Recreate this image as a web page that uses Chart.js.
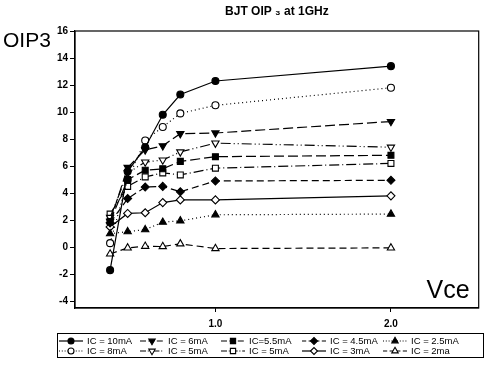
<!DOCTYPE html>
<html>
<head>
<meta charset="utf-8">
<title>BJT OIP3 at 1GHz</title>
<script src="https://cdn.jsdelivr.net/npm/chart.js@4/dist/chart.umd.min.js"></script>
<style>
  html, body { margin: 0; padding: 0; background: #fff; }
  canvas { display: block; }
</style>
</head>
<body>
<canvas id="oipChart" width="484" height="375"></canvas>
<script>
// Vce sweep (V)
const vce = [0.4, 0.5, 0.6, 0.7, 0.8, 1.0, 2.0];

// OIP3 per bias current
const ic10 = [-1.7, 5.6, 7.4, 9.8, 11.3, 12.3, 13.4];
const ic6 = [1.9, 5.9, 7.2, 7.5, 8.4, 8.45, 9.3];
const ic55 = [1.9, 5.0, 5.7, 5.8, 6.35, 6.7, 6.8];
const ic45 = [1.8, 3.6, 4.45, 4.5, 4.1, 4.9, 4.95];
const ic25 = [1.0, 1.15, 1.3, 1.85, 1.95, 2.4, 2.45];
const ic8 = [0.3, 5.0, 7.9, 8.9, 9.9, 10.5, 11.8];
const ic5t = [2.2, 5.5, 6.3, 6.45, 7.05, 7.7, 7.4];
const ic5s = [2.45, 4.5, 5.2, 5.5, 5.35, 5.85, 6.2];
const ic3 = [1.5, 2.5, 2.55, 3.3, 3.5, 3.5, 3.8];
const ic2 = [-0.5, -0.05, 0.07, 0.05, 0.25, -0.1, -0.05];

const seriesValues = [ic10, ic6, ic55, ic45, ic25, ic8, ic5t, ic5s, ic3, ic2];
const seriesLabels = ['IC = 10mA', 'IC = 6mA', 'IC=5.5mA', 'IC = 4.5mA', 'IC = 2.5mA',
                      'IC = 8mA', 'IC = 5mA', 'IC = 5mA', 'IC = 3mA', 'IC = 2ma'];

const yTicks = [-4, -2, 0, 2, 4, 6, 8, 10, 12, 14, 16];
const xTicks = [1.0, 2.0];

const FONT = 'Arial, "Liberation Sans", sans-serif';

// marker / line look for each series (same order as above)
const styles = [
    { shape: 'circle',   rot: 0,   filled: true,  dash: [] },
    { shape: 'triangle', rot: 180, filled: true,  dash: [10, 4] },
    { shape: 'rect',     rot: 0,   filled: true,  dash: [10, 4] },
    { shape: 'rectRot',  rot: 0,   filled: true,  dash: [7, 4] },
    { shape: 'triangle', rot: 0,   filled: true,  dash: [1, 3] },
    { shape: 'circle',   rot: 0,   filled: false, dash: [1, 3] },
    { shape: 'triangle', rot: 180, filled: false, dash: [10, 3, 1, 3, 1, 3] },
    { shape: 'rect',     rot: 0,   filled: false, dash: [10, 3, 1, 3] },
    { shape: 'rectRot',  rot: 0,   filled: false, dash: [] },
    { shape: 'triangle', rot: 0,   filled: false, dash: [7, 4] }
];

function markerRadius(shape) {
    if (shape === 'triangle') return 4.2;
    if (shape === 'rect') return 4.2;
    if (shape === 'rectRot') return 4;
    return 3.5;
}

const datasets = seriesValues.map((vals, i) => {
    const s = styles[i];
    return {
        label: seriesLabels[i],
        data: vals.map((v, j) => ({ x: vce[j], y: v })),
        borderColor: '#000',
        borderWidth: 1.2,
        borderDash: s.dash,
        pointStyle: s.shape,
        pointRotation: s.rot,
        pointRadius: markerRadius(s.shape),
        pointBorderWidth: 1.1,
        pointBorderColor: '#000',
        pointBackgroundColor: s.filled ? '#000' : '#fff',
        tension: 0,
        fill: false
    };
});

// frame, axis words and the boxed legend under the plot
const decorPlugin = {
    id: 'decor',
    afterDraw(chart) {
        const { ctx, chartArea: a } = chart;
        ctx.save();
        ctx.strokeStyle = '#000';
        ctx.lineWidth = 1.2;
        ctx.setLineDash([]);
        ctx.strokeRect(a.left, a.top, a.right - a.left, a.bottom - a.top);

        ctx.fillStyle = '#000';
        ctx.textBaseline = 'alphabetic';
        ctx.textAlign = 'left';
        ctx.font = '21px ' + FONT;
        ctx.fillText('OIP3', 3, 47);
        ctx.textAlign = 'right';
        ctx.font = '25px ' + FONT;
        ctx.fillText('Vce', a.right - 9, a.bottom - 10);

        // legend
        const colX = [59, 140, 221, 302, 383];
        const rowY = [341, 351];
        ctx.lineWidth = 1;
        ctx.strokeRect(57.5, 333.5, 426, 24);
        ctx.font = '9.5px ' + FONT;
        ctx.textAlign = 'left';
        ctx.textBaseline = 'middle';
        datasets.forEach((ds, i) => {
            const x0 = colX[i % 5];
            const y = rowY[Math.floor(i / 5)];
            const s = styles[i];
            ctx.lineWidth = 1.2;
            ctx.setLineDash(s.dash.length ? s.dash.map(d => Math.max(1, d * 0.6)) : []);
            ctx.beginPath();
            ctx.moveTo(x0, y);
            ctx.lineTo(x0 + 24, y);
            ctx.stroke();
            ctx.setLineDash([]);
            ctx.fillStyle = s.filled ? '#000' : '#fff';
            ctx.lineWidth = 1.1;
            Chart.helpers.drawPoint(ctx, {
                pointStyle: s.shape,
                rotation: s.rot,
                radius: markerRadius(s.shape) - 0.5,
                borderWidth: 1.1
            }, x0 + 12, y);
            ctx.fillStyle = '#000';
            ctx.fillText(ds.label, x0 + 28, y);
        });
        ctx.restore();
    }
};

new Chart(document.getElementById('oipChart').getContext('2d'), {
    type: 'line',
    data: { datasets: datasets },
    options: {
        responsive: false,
        animation: false,
        layout: { padding: { left: 0, right: 3, top: 0, bottom: 47 } },
        plugins: {
            legend: { display: false },
            tooltip: { enabled: false },
            title: {
                display: true,
                fullSize: false,
                text: 'BJT OIP \u2083 at 1GHz',
                color: '#000',
                font: { family: FONT, size: 12, weight: 'bold' },
                padding: { top: 4, bottom: 12.6 }
            }
        },
        scales: {
            x: {
                type: 'linear',
                min: 0.2,
                max: 2.5,
                afterBuildTicks: scale => { scale.ticks = xTicks.map(v => ({ value: v })); },
                afterFit: scale => { scale.height = 20; },
                grid: { drawOnChartArea: false, drawTicks: true, tickLength: 4, color: '#000' },
                border: { display: true, color: '#000', width: 1.2 },
                ticks: {
                    color: '#000',
                    padding: 6,
                    maxRotation: 0,
                    font: { family: FONT, size: 10, weight: 'bold' },
                    callback: v => Number(v).toFixed(1)
                }
            },
            y: {
                min: -4.5,
                max: 16,
                afterBuildTicks: scale => { scale.ticks = yTicks.map(v => ({ value: v })); },
                afterFit: scale => { scale.width = 75; },
                grid: { drawOnChartArea: false, drawTicks: true, tickLength: 5, color: '#000' },
                border: { display: true, color: '#000', width: 1.2 },
                ticks: {
                    color: '#000',
                    padding: 2,
                    font: { family: FONT, size: 10, weight: 'bold' }
                }
            }
        }
    },
    plugins: [decorPlugin]
});
</script>
</body>
</html>
